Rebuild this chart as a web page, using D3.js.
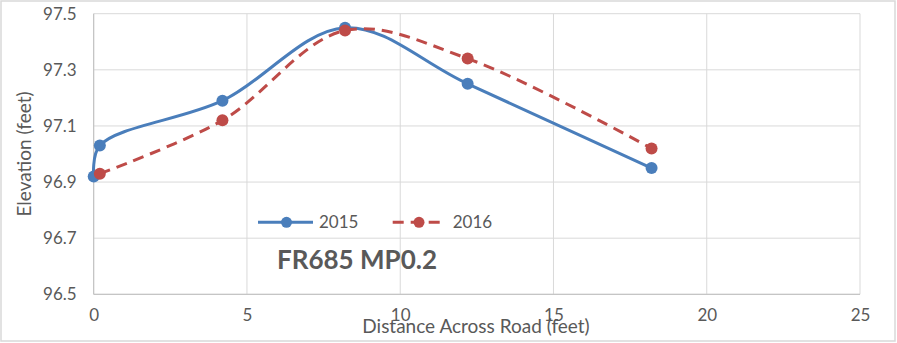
<!DOCTYPE html>
<html>
<head>
<meta charset="utf-8">
<script src="https://cdn.jsdelivr.net/npm/d3@7"></script>
<style>
  html, body { margin: 0; padding: 0; background: #fff; }
  svg { display: block; }
  text { font-family: Lato, "Open Sans", sans-serif; fill: #595959; }
</style>
</head>
<body>
<svg id="chart" width="897" height="343"></svg>
<script>
// ---- data ----
const x2015 = [0, 0.2, 4.2, 8.2, 12.2, 18.2];
const y2015 = [96.92, 97.03, 97.19, 97.45, 97.25, 96.95];
const x2016 = [0.2, 4.2, 8.2, 12.2, 18.2];
const y2016 = [96.93, 97.12, 97.44, 97.34, 97.02];
const seriesNames = ["2015", "2016"];
const xTicks = [0, 5, 10, 15, 20, 25];
const yTicks = [96.5, 96.7, 96.9, 97.1, 97.3, 97.5];
const chartTitle = "FR685 MP0.2";
const xTitle = "Distance Across Road (feet)";
const yTitle = "Elevation (feet)";

const W = 897, H = 343;
const plot = { left: 93.7, right: 860, top: 13.7, bottom: 294.3 };
const svg = d3.select("#chart");

// outer border
svg.append("rect").attr("x", 1).attr("y", 1).attr("width", W - 3).attr("height", H - 3)
  .attr("fill", "#fff").attr("stroke", "#d9d9d9").attr("stroke-width", 1.5);

const x = d3.scaleLinear().domain([0, 25]).range([plot.left, plot.right]);
const y = d3.scaleLinear().domain([96.5, 97.5]).range([plot.bottom, plot.top]);

// gridlines
const g = svg.append("g");
g.selectAll("line.h").data(yTicks).join("line")
  .attr("x1", plot.left).attr("x2", plot.right)
  .attr("y1", d => y(d)).attr("y2", d => y(d))
  .attr("stroke", "#d9d9d9").attr("stroke-width", 1);
g.selectAll("line.v").data(xTicks).join("line")
  .attr("y1", plot.top).attr("y2", plot.bottom)
  .attr("x1", d => x(d)).attr("x2", d => x(d))
  .attr("stroke", "#d9d9d9").attr("stroke-width", 1);
// axis lines
svg.append("line").attr("x1", plot.left).attr("x2", plot.left).attr("y1", plot.top).attr("y2", plot.bottom)
  .attr("stroke", "#bfbfbf").attr("stroke-width", 1);
svg.append("line").attr("x1", plot.left).attr("x2", plot.right).attr("y1", plot.bottom).attr("y2", plot.bottom)
  .attr("stroke", "#bfbfbf").attr("stroke-width", 1);

// axes (labels via d3 axis)
const yAxis = d3.axisLeft(y).tickValues(yTicks).tickFormat(d3.format(".1f")).tickSize(0).tickPadding(17);
const ya = svg.append("g").attr("transform", `translate(${plot.left},0)`).call(yAxis);
ya.select(".domain").remove();
ya.selectAll("text").style("font-size", "17px").attr("fill", "#595959");

const xAxis = d3.axisBottom(x).tickValues(xTicks).tickFormat(d3.format("d")).tickSize(0).tickPadding(15);
const xa = svg.append("g").attr("transform", `translate(0,${plot.bottom})`).call(xAxis);
xa.select(".domain").remove();
xa.selectAll("text").style("font-size", "17px").attr("fill", "#595959");

// axis titles
svg.append("text").attr("x", 476).attr("y", 333).attr("text-anchor", "middle")
  .style("font-size", "19px").text(xTitle);
svg.append("text").attr("transform", `translate(31,${(plot.top + plot.bottom) / 2}) rotate(-90)`)
  .attr("text-anchor", "middle").style("font-size", "19px").text(yTitle);

// series
const blue = "#4a7ebb", red = "#be4b48";
const line = d3.line().x(d => x(d[0])).y(d => y(d[1])).curve(d3.curveCatmullRom.alpha(0.5));
const d15 = x2015.map((v, i) => [v, y2015[i]]);
const d16 = x2016.map((v, i) => [v, y2016[i]]);

svg.append("path").attr("d", line(d15)).attr("fill", "none").attr("stroke", blue).attr("stroke-width", 3);
svg.selectAll("circle.s15").data(d15).join("circle").attr("class", "s15")
  .attr("cx", d => x(d[0])).attr("cy", d => y(d[1])).attr("r", 6).attr("fill", blue);

svg.append("path").attr("d", line(d16)).attr("fill", "none").attr("stroke", red).attr("stroke-width", 3)
  .attr("stroke-dasharray", "11,7");
svg.selectAll("circle.s16").data(d16).join("circle").attr("class", "s16")
  .attr("cx", d => x(d[0])).attr("cy", d => y(d[1])).attr("r", 6).attr("fill", red);

// legend
const lg = svg.append("g");
const ly = 222.3;
lg.append("line").attr("x1", 258).attr("x2", 313).attr("y1", ly).attr("y2", ly).attr("stroke", blue).attr("stroke-width", 3);
lg.append("circle").attr("cx", 286.5).attr("cy", ly).attr("r", 5.5).attr("fill", blue);
lg.append("text").attr("x", 319).attr("y", ly + 6).style("font-size", "17px").text(seriesNames[0]);
lg.append("line").attr("x1", 392.7).attr("x2", 445).attr("y1", ly).attr("y2", ly).attr("stroke", red).attr("stroke-width", 3)
  .attr("stroke-dasharray", "11,7");
lg.append("circle").attr("cx", 419).attr("cy", ly).attr("r", 5.5).attr("fill", red);
lg.append("text").attr("x", 452.7).attr("y", ly + 6).style("font-size", "17px").text(seriesNames[1]);

// chart title (inside plot)
svg.append("text").attr("x", 277).attr("y", 269).style("font-size", "26px").style("font-weight", "bold")
  .text(chartTitle);
</script>
</body>
</html>
